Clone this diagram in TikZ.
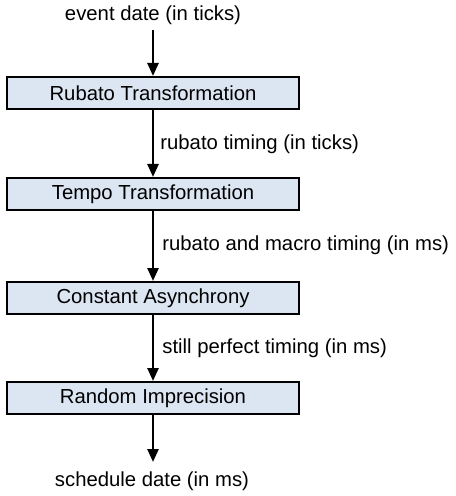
\documentclass[tikz,border=0pt]{standalone}
\usepackage{fontspec}
\setmainfont{Liberation Sans}
\usetikzlibrary{arrows.meta}
\definecolor{boxfill}{RGB}{220,230,242}
\begin{document}
\begin{tikzpicture}[x=0.5pt,y=-0.5pt,
  font=\fontsize{10.15pt}{12pt}\selectfont,
  stage/.style={draw=black,line width=1pt,fill=boxfill,minimum width=146pt,minimum height=16pt,inner sep=0pt},
  flow/.style={line width=1.25pt,-{Triangle[width=5.5pt,length=6.5pt]}},
  lbl/.style={anchor=west,inner sep=0pt},
  endtxt/.style={inner sep=0pt}]
\useasboundingbox (0,0) rectangle (455,496);
\node[endtxt] (evt) at (153,15) {event date (in ticks)};
\coordinate (in) at (153,30);
\node[stage] (rub) at (153,93) {Rubato Transformation};
\node[stage] (tmp) at (153,194) {Tempo Transformation};
\node[stage] (con) at (153,298) {Constant Asynchrony};
\node[stage] (rnd) at (153,398) {Random Imprecision};
\coordinate (out) at (153,462);
\node[endtxt] (sch) at (152,481) {schedule date (in ms)};
\draw[flow] (in) -- (rub.north);
\draw[flow] (rub.south) -- (tmp.north);
\draw[flow] (tmp.south) -- (con.north);
\draw[flow] (con.south) -- (rnd.north);
\draw[flow] (rnd.south) -- (out);
\node[lbl] (l1) at (160,144) {rubato timing (in ticks)};
\node[lbl] (l2) at (162,245) {rubato and macro timing (in ms)};
\node[lbl] (l3) at (162,348) {still perfect timing (in ms)};
\end{tikzpicture}
\end{document}
